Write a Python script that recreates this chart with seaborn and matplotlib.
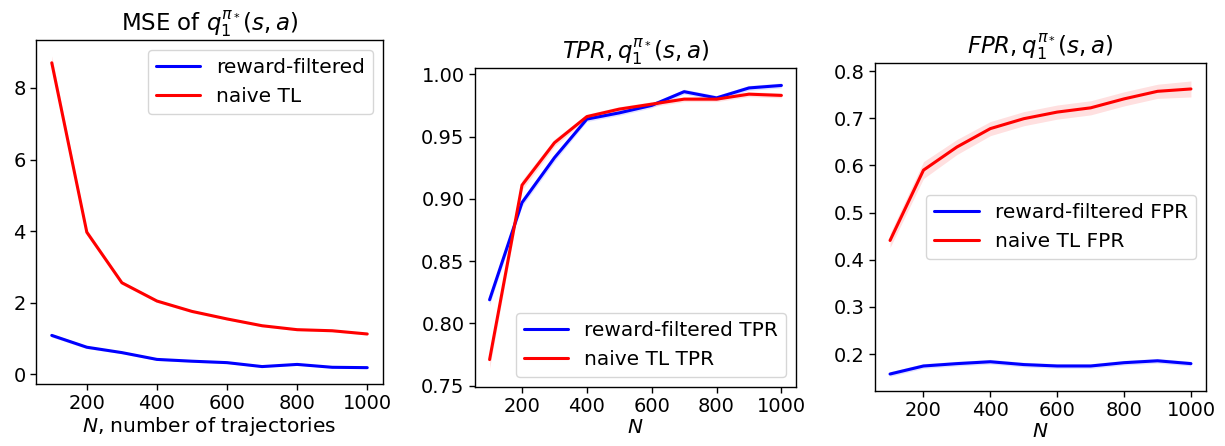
import matplotlib
matplotlib.use("Agg")
import matplotlib.pyplot as plt
import numpy as np
import pandas as pd
import seaborn as sns

sns.set_theme(style="ticks", rc={
    "axes.edgecolor": "black",
    "axes.linewidth": 1.0,
    "xtick.color": "black",
    "ytick.color": "black",
    "text.color": "black",
    "axes.labelcolor": "black",
})
plt.rcParams["font.family"] = ["DejaVu Sans"]
plt.rcParams["mathtext.fontset"] = "dejavusans"

N = [100, 200, 300, 400, 500, 600, 700, 800, 900, 1000]

# MSE panel
mse_filtered = [1.09, 0.76, 0.61, 0.42, 0.37, 0.33, 0.22, 0.28, 0.20, 0.19]
mse_naive = [8.70, 3.97, 2.56, 2.05, 1.76, 1.55, 1.36, 1.25, 1.22, 1.13]
mse_filtered_sd = [0.05, 0.04, 0.03, 0.03, 0.03, 0.03, 0.02, 0.02, 0.02, 0.02]
mse_naive_sd = [0.20, 0.08, 0.05, 0.04, 0.04, 0.03, 0.03, 0.03, 0.03, 0.03]

# TPR panel
tpr_filtered = [0.819, 0.897, 0.933, 0.964, 0.969, 0.975, 0.986, 0.981, 0.989, 0.991]
tpr_naive = [0.771, 0.911, 0.945, 0.966, 0.972, 0.976, 0.980, 0.980, 0.984, 0.983]
tpr_filtered_sd = [0.004, 0.003, 0.003, 0.002, 0.002, 0.002, 0.002, 0.002, 0.002, 0.002]
tpr_naive_sd = [0.007, 0.004, 0.003, 0.002, 0.002, 0.002, 0.002, 0.002, 0.002, 0.002]

# FPR panel
fpr_filtered = [0.158, 0.175, 0.180, 0.184, 0.178, 0.175, 0.175, 0.182, 0.186, 0.180]
fpr_naive = [0.441, 0.590, 0.639, 0.678, 0.699, 0.713, 0.722, 0.741, 0.757, 0.762]
fpr_filtered_sd = [0.005] * 10
fpr_naive_sd = [0.015, 0.018, 0.016, 0.015, 0.015, 0.015, 0.015, 0.015, 0.015, 0.017]

QSTR = r"q_1^{\pi_*}(s, a)"

panels = [
    dict(rect=[36 / 1225, 1 - 384 / 446, 347 / 1225, 344 / 446],
         title=r"MSE of $" + QSTR + "$", xlabel=r"$N$, number of trajectories",
         blue=mse_filtered, red=mse_naive, bsd=mse_filtered_sd, rsd=mse_naive_sd,
         labels=["reward-filtered", "naive TL"], loc="upper right", ylim=None,
         yticks=[0, 2, 4, 6, 8], fmt="{:g}"),
    dict(rect=[475 / 1225, 1 - 387 / 446, 321 / 1225, 319 / 446],
         title=r"$TPR, " + QSTR + "$", xlabel=r"$N$",
         blue=tpr_filtered, red=tpr_naive, bsd=tpr_filtered_sd, rsd=tpr_naive_sd,
         labels=["reward-filtered TPR", "naive TL TPR"], loc="lower right",
         ylim=(0.749, 1.005), yticks=[0.75, 0.80, 0.85, 0.90, 0.95, 1.00],
         fmt="{:.2f}"),
    dict(rect=[875 / 1225, 1 - 391 / 446, 331 / 1225, 328 / 446],
         title=r"$FPR, " + QSTR + "$", xlabel=r"$N$",
         blue=fpr_filtered, red=fpr_naive, bsd=fpr_filtered_sd, rsd=fpr_naive_sd,
         labels=["reward-filtered FPR", "naive TL FPR"], loc="center right",
         ylim=(0.122, 0.817), yticks=[0.2, 0.3, 0.4, 0.5, 0.6, 0.7, 0.8],
         fmt="{:.1f}"),
]

fig = plt.figure(figsize=(12.25, 4.46), dpi=100)
for p in panels:
    ax = fig.add_axes(p["rect"])
    df = pd.DataFrame({"N": N, "blue": p["blue"], "red": p["red"]})
    for key, sd, color, label in [("blue", p["bsd"], "blue", p["labels"][0]),
                                  ("red", p["rsd"], "red", p["labels"][1])]:
        y = np.array(df[key])
        s = np.array(sd)
        ax.fill_between(df["N"], y - s, y + s, color=color, alpha=0.12, lw=0)
        sns.lineplot(data=df, x="N", y=key, color=color, lw=2.2, label=label, ax=ax)
    if p["ylim"]:
        ax.set_ylim(*p["ylim"])
    ax.set_yticks(p["yticks"])
    ax.set_yticklabels([p["fmt"].format(t) for t in p["yticks"]])
    ax.set_xticks([200, 400, 600, 800, 1000])
    ax.set_xlim(55, 1045)
    ax.tick_params(labelsize=14, length=4, width=1)
    ax.set_title(p["title"], fontsize=16.5, pad=7)
    ax.set_xlabel(p["xlabel"], fontsize=14.5, labelpad=1)
    ax.set_ylabel("")
    ax.legend(loc=p["loc"], fontsize=14.5, handlelength=2.2)

fig.savefig("out.png", dpi=100)
